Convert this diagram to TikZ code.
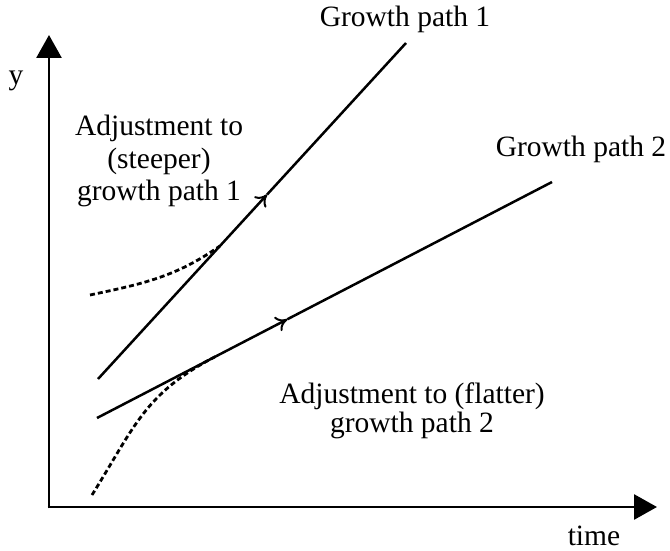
\documentclass[tikz,border=0pt]{standalone}
\usepackage{fontspec}
\setmainfont{Liberation Serif}
\usetikzlibrary{arrows.meta, calc}

\begin{document}
\begin{tikzpicture}[x=1pt, y=1pt,
  axis/.style={line width=2.8pt, -{Triangle[length=23pt, width=25pt]}},
  growth/.style={line width=2.5pt},
  pointer/.style={growth, -{Computer Modern Rightarrow[length=11pt, width=16pt, line width=2pt]}},
  adjust/.style={line width=2.8pt, dash pattern=on 5pt off 3pt},
  lbl/.style={font=\fontsize{29.5}{32.5}\selectfont, inner sep=0pt}]
\useasboundingbox (0,0) rectangle (670,550);

% axes
\coordinate (origin) at (49,43);
\coordinate (ytop) at (49,515);
\coordinate (xend) at (657,43);
\draw[axis] ($(origin)+(0,-1.4)$) -- (ytop);
\draw[axis] ($(origin)+(-1.4,0)$) -- (xend);
\node[lbl, anchor=base] (ylabel) at (16,465) {y};
\node[lbl, anchor=base] (timelabel) at (594,5) {time};

% growth paths
\coordinate (p1start) at (98,171);
\coordinate (p1end) at (406,507);
\coordinate (p1mid) at ($(p1start)!0.549!(p1end)$);
\coordinate (p2start) at (97,132);
\coordinate (p2end) at (552,368);
\coordinate (p2mid) at ($(p2start)!0.418!(p2end)$);
\draw[pointer] (p1start) -- (p1mid);
\draw[growth] (p1mid) -- (p1end);
\draw[pointer] (p2start) -- (p2mid);
\draw[growth] (p2mid) -- (p2end);
\node[lbl, anchor=base] (path1) at (405,523) {Growth path 1};
\node[lbl, anchor=base] (path2) at (581,393) {Growth path 2};

% adjustment paths
\coordinate (adj1start) at (90,255);
\coordinate (adj1end) at ($(p1start)!0.396!(p1end)$);
\coordinate (adj2start) at (92,55);
\coordinate (adj2end) at ($(p2start)!0.26!(p2end)$);
\draw[adjust] (adj1start) to[out=12, in=215] (adj1end);
\draw[adjust] (adj2start) to[out=58, in=207.4, looseness=1.1] (adj2end);
\node[lbl, anchor=north, align=center] (steep) at (159,435)
    {Adjustment to\\(steeper)\\growth path 1};
\node[lbl, anchor=north, align=center, font=\fontsize{29.5}{29}\selectfont] (flat) at (412,167)
    {Adjustment to (flatter)\\growth path 2};
\end{tikzpicture}
\end{document}
